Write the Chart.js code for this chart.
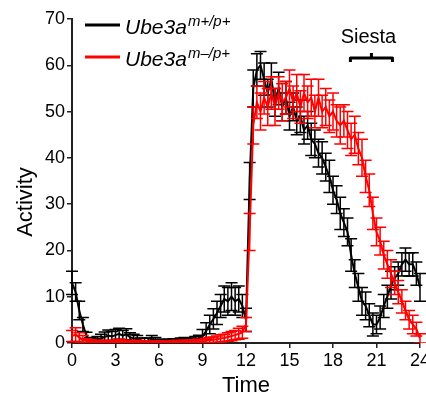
<!DOCTYPE html>
<html>
<head>
<meta charset="utf-8">
<script src="https://cdn.jsdelivr.net/npm/chart.js@4.4.1/dist/chart.umd.min.js"></script>
<style>
html,body{margin:0;padding:0;background:#fff;}
#wrap{width:426px;height:395px;position:relative;}
</style>
</head>
<body>
<div id="wrap"><canvas id="c" width="426" height="395"></canvas></div>
<script>
// Time (h), 15-min bins
const timeH = [0,0.25,0.5,0.75,1,1.25,1.5,1.75,2,2.25,2.5,2.75,3,3.25,3.5,3.75,4,4.25,4.5,4.75,5,5.25,5.5,5.75,6,6.25,6.5,6.75,7,7.25,7.5,7.75,8,8.25,8.5,8.75,9,9.25,9.5,9.75,10,10.25,10.5,10.75,11,11.25,11.5,11.75,12,12.25,12.5,12.75,13,13.25,13.5,13.75,14,14.25,14.5,14.75,15,15.25,15.5,15.75,16,16.25,16.5,16.75,17,17.25,17.5,17.75,18,18.25,18.5,18.75,19,19.25,19.5,19.75,20,20.25,20.5,20.75,21,21.25,21.5,21.75,22,22.25,22.5,22.75,23,23.25,23.5,23.75,24];

// Ube3a m+/p+ (black)
const wtMean = [13,11,7,4,1.5,0.6,0.4,0.6,0.9,1.3,1.6,1.4,1.7,2.0,1.6,1.9,1.2,1.0,0.8,0.5,0.4,0.5,0.7,0.5,0.3,0.3,0.2,0.3,0.4,0.3,0.5,0.6,0.5,0.5,0.7,0.9,1.4,2.6,4.0,5.2,6.5,8.0,9.5,9.0,10.0,9.0,9.5,8.0,5,35,55,59,60,57,54,57,52,55,51,53,49,51,48,49,46,47,44,43,41,40,38,36,33,31,28,26,24,19,15,12,9,8,6,4,4,5.5,8,10,12.5,14,15,17,18,17,17,15,12];
const wtErr  = [2.5,2,2,1.5,0.8,0.6,0.6,0.8,1,1.1,1.2,1.1,1.2,1.2,1.1,1.2,1,0.9,0.8,0.6,0.6,0.6,0.9,0.7,0.5,0.5,0.4,0.5,0.5,0.5,0.6,0.6,0.6,0.6,0.7,0.8,1.5,1.8,2,2.2,2.5,2.5,2.8,3,3,3,2.8,2.5,2.5,4,4,3.5,3,3.5,3,3.5,3,3.5,3,3.5,3,3,3,3.5,3,3,3.5,3,3,3.5,3,3.5,3,3,3.5,3,3,3.5,3,3,3,3,2.5,2.5,2,2.5,2.5,2.5,3,2.5,2.5,2.5,2.5,2.5,2.5,2.5,3];

// Ube3a m–/p+ (red)
const mutMean = [1.5,1.8,1.2,0.8,0.4,0.3,0.2,0.3,0.2,0.3,0.3,0.2,0.3,0.4,0.3,0.3,0.2,0.2,0.3,0.2,0.2,0.1,0.2,0.1,0.2,0.1,0.1,0.2,0.2,0.3,0.2,0.3,0.3,0.2,0.3,0.4,0.3,0.5,0.6,0.7,0.8,1.0,1.1,1.3,1.5,1.7,2.0,2.3,4,24,47,52,50,53,51,54,51,54,52,53,55,52,54,51,54,52,53,50,53,50,51,49,50,48,47,48,46,44,45,42,40,36,33,28,24,22,19,17,15,13,11,9,7,5,4,3,1];
const mutErr  = [1.2,1.5,1,0.8,0.5,0.4,0.3,0.3,0.3,0.3,0.3,0.3,0.3,0.4,0.3,0.3,0.3,0.3,0.3,0.3,0.3,0.2,0.3,0.2,0.3,0.2,0.2,0.3,0.3,0.3,0.3,0.3,0.3,0.3,0.4,0.4,0.4,0.5,0.6,0.6,0.7,0.8,0.8,0.9,1,1,1.2,1.3,1.5,4,4,3.5,4,3.5,4,3.5,4,3.5,4,3.5,4,3.5,4,3.5,4,3.5,4,3.5,4,3.5,4,3.5,4,3.5,4,3.5,4,3.5,4,3.5,4,3.5,3.5,3.5,3,3,3,3,3,2.5,2.5,2.5,2,2,2,1.5,1];

const seriesLabels = ['Ube3a', 'Ube3a'];
const seriesSups = ['m+/p+', 'm\u2013/p+'];
const seriesColors = ['#000000', '#ff0000'];
const xTicks = [0,3,6,9,12,15,18,21,24];
const yTicks = [0,10,20,30,40,50,60,70];
const siestaRange = [19.2, 22.1];
const xTitle = 'Time';
const yTitle = 'Activity';
const siestaLabel = 'Siesta';

const FONT = '"Liberation Sans", Arial, sans-serif';

function pts(xs, ys){ return xs.map((x,i)=>({x:x, y:ys[i]})); }

const errorBars = {
  id: 'errorBars',
  beforeDatasetDraw(chart, args) {
    const ds = chart.data.datasets[args.index];
    const ctx = chart.ctx;
    const ys = chart.scales.y;
    const a = chart.chartArea;
    ctx.save();
    ctx.beginPath();
    ctx.rect(a.left - 10, a.top - 10, a.right - a.left + 20, a.bottom - a.top + 10);
    ctx.clip();
    ctx.strokeStyle = ds.borderColor;
    ctx.lineWidth = 1.5;
    const cap = 6;
    args.meta.data.forEach((p, i) => {
      const v = ds.data[i].y, e = ds.errors[i];
      const t = ys.getPixelForValue(v + e);
      const b = ys.getPixelForValue(Math.max(0, v - e));
      ctx.beginPath();
      ctx.moveTo(p.x, t); ctx.lineTo(p.x, b);
      ctx.moveTo(p.x - cap, t); ctx.lineTo(p.x + cap, t);
      ctx.moveTo(p.x - cap, b); ctx.lineTo(p.x + cap, b);
      ctx.stroke();
    });
    ctx.restore();
  }
};

const decorations = {
  id: 'decorations',
  afterDraw(chart) {
    const ctx = chart.ctx;
    const xs = chart.scales.x;
    const a = chart.chartArea;
    ctx.save();
    ctx.fillStyle = '#000';
    // axis titles
    ctx.font = '22px ' + FONT;
    ctx.textAlign = 'center';
    ctx.textBaseline = 'alphabetic';
    ctx.fillText(xTitle, (a.left + a.right) / 2, 392);
    ctx.save();
    ctx.translate(32, 202);
    ctx.rotate(-Math.PI / 2);
    ctx.fillText(yTitle, 0, 0);
    ctx.restore();
    // legend
    const legY = [25, 57];
    for (let i = 0; i < 2; i++) {
      ctx.strokeStyle = seriesColors[i];
      ctx.lineWidth = 3;
      ctx.beginPath();
      ctx.moveTo(85, legY[i]); ctx.lineTo(120, legY[i]);
      ctx.stroke();
      ctx.fillStyle = '#000';
      ctx.textAlign = 'left';
      ctx.font = 'italic 21px ' + FONT;
      ctx.fillText(seriesLabels[i], 125, legY[i] + 9);
      const w = ctx.measureText(seriesLabels[i]).width;
      ctx.font = 'italic 15px ' + FONT;
      ctx.fillText(seriesSups[i], 125 + w + 1, legY[i] + 1);
    }
    // siesta
    const x1 = xs.getPixelForValue(siestaRange[0]);
    const x2 = xs.getPixelForValue(siestaRange[1]);
    const xm = (x1 + x2) / 2;
    const yb = 58;
    ctx.font = '20px ' + FONT;
    ctx.textAlign = 'center';
    ctx.fillText(siestaLabel, xm - 3, 43);
    ctx.strokeStyle = '#000';
    ctx.lineWidth = 3;
    ctx.lineJoin = 'round';
    ctx.beginPath();
    ctx.moveTo(x1, yb + 4); ctx.lineTo(x1, yb); ctx.lineTo(x2, yb); ctx.lineTo(x2, yb + 4);
    ctx.moveTo(xm, yb); ctx.lineTo(xm, yb - 5);
    ctx.stroke();
    ctx.restore();
  }
};

new Chart(document.getElementById('c'), {
  type: 'line',
  data: {
    datasets: [
      { label: seriesLabels[0] + seriesSups[0], data: pts(timeH, wtMean), errors: wtErr,
        borderColor: seriesColors[0], borderWidth: 2, pointRadius: 0, tension: 0, order: 2 },
      { label: seriesLabels[1] + seriesSups[1], data: pts(timeH, mutMean), errors: mutErr,
        borderColor: seriesColors[1], borderWidth: 2, pointRadius: 0, tension: 0, order: 1 }
    ]
  },
  options: {
    responsive: false,
    animation: false,
    devicePixelRatio: 1,
    layout: { padding: { left: 0, right: 6, top: 19, bottom: 0 } },
    plugins: { legend: { display: false }, tooltip: { enabled: false } },
    scales: {
      x: {
        type: 'linear', min: 0, max: 24,
        afterBuildTicks: s => { s.ticks = xTicks.map(v => ({ value: v })); },
        afterFit: s => { s.height = 52; s.paddingLeft = 0; s.paddingRight = 0; },
        grid: { drawOnChartArea: false, drawTicks: true, tickLength: 5, color: '#222', lineWidth: 1.5 },
        border: { display: true, color: '#222', width: 2 },
        ticks: { color: '#000', font: { family: FONT, size: 18 }, padding: 2, maxRotation: 0, autoSkip: false }
      },
      y: {
        type: 'linear', min: 0, max: 70,
        afterBuildTicks: s => { s.ticks = yTicks.map(v => ({ value: v })); },
        afterFit: s => { s.width = 72; s.paddingTop = 0; s.paddingBottom = 0; },
        grid: { drawOnChartArea: false, drawTicks: true, tickLength: 5, color: '#222', lineWidth: 1.5 },
        border: { display: true, color: '#222', width: 2 },
        ticks: { color: '#000', font: { family: FONT, size: 18 }, padding: 2, autoSkip: false }
      }
    }
  },
  plugins: [errorBars, decorations]
});
</script>
</body>
</html>
